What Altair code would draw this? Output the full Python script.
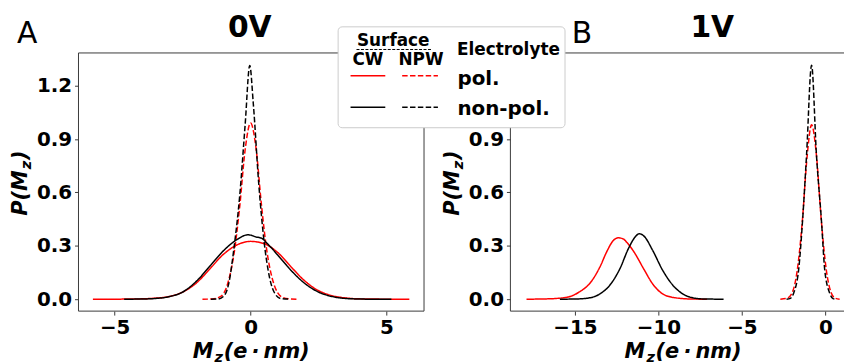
import altair as alt
import pandas as pd

# ---------------- data ----------------
ELECTROLYTES = ["pol.", "non-pol."]
SURFACES = ["CW", "NPW"]
PANEL_TITLES = ["0V", "1V"]
PANEL_LETTERS = ["A", "B"]
A_Y_TICKS = [0.0, 0.3, 0.6, 0.9, 1.2]
B_Y_TICKS = [0.0, 0.3, 0.6, 0.9]          # 1.2 is hidden behind the legend
A_X_TICKS = [-5, 0, 5]
B_X_TICKS = [-15, -10, -5, 0]

# Panel A (0V)
A_POL_CW_X = [-5.8, -5.0, -4.5, -4.0, -3.5, -3.0, -2.5, -2.0, -1.5, -1.0, -0.5, 0.0, 0.5, 1.0, 1.5, 2.0, 2.5, 3.0, 3.5, 4.0, 4.5, 5.0, 5.84]
A_POL_CW_Y = [0.000, 0.000, 0.001, 0.002, 0.006, 0.015, 0.040, 0.090, 0.170, 0.252, 0.305, 0.325, 0.312, 0.262, 0.180, 0.102, 0.048, 0.020, 0.007, 0.002, 0.001, 0.000, 0.000]
A_POL_NPW_X = [-1.77, -1.4, -1.2, -1.0, -0.8, -0.6, -0.4, -0.2, 0.0, 0.2, 0.4, 0.6, 0.8, 1.0, 1.2, 1.4, 1.7]
A_POL_NPW_Y = [0.000, 0.001, 0.008, 0.030, 0.110, 0.265, 0.520, 0.840, 0.990, 0.850, 0.530, 0.270, 0.115, 0.035, 0.009, 0.002, 0.000]
A_NON_CW_X = [-4.65, -4.0, -3.5, -3.0, -2.5, -2.0, -1.5, -1.0, -0.5, -0.1, 0.0, 0.2, 0.4, 0.6, 1.0, 1.5, 2.0, 2.5, 3.0, 3.5, 4.0, 4.5, 5.18]
A_NON_CW_Y = [0.000, 0.001, 0.004, 0.014, 0.040, 0.100, 0.185, 0.272, 0.335, 0.362, 0.360, 0.350, 0.343, 0.315, 0.248, 0.160, 0.088, 0.040, 0.015, 0.004, 0.001, 0.000, 0.000]
A_NON_NPW_X = [-1.46, -1.2, -1.0, -0.8, -0.6, -0.4, -0.2, -0.03, 0.1, 0.3, 0.5, 0.7, 0.9, 1.1, 1.46]
A_NON_NPW_Y = [0.000, 0.001, 0.015, 0.090, 0.300, 0.580, 0.980, 1.313, 1.100, 0.650, 0.320, 0.120, 0.030, 0.004, 0.000]

# Panel B (1V)
B_POL_CW_X = [-17.9, -17.0, -16.0, -15.3, -14.7, -14.1, -13.5, -13.1, -12.7, -12.4, -12.1, -11.9, -11.4, -10.9, -10.3, -9.75, -9.0, -8.0, -7.1]
B_POL_CW_Y = [0.000, 0.001, 0.005, 0.015, 0.043, 0.090, 0.182, 0.266, 0.330, 0.345, 0.338, 0.320, 0.256, 0.173, 0.080, 0.030, 0.008, 0.001, 0.000]
B_POL_NPW_X = [-2.7, -2.3, -2.0, -1.7, -1.4, -1.1, -0.83, -0.55, -0.25, 0.05, 0.35, 0.6, 0.85]
B_POL_NPW_Y = [0.000, 0.005, 0.035, 0.155, 0.420, 0.800, 0.980, 0.820, 0.445, 0.165, 0.035, 0.005, 0.000]
B_NON_CW_X = [-15.9, -15.0, -14.3, -13.5, -12.9, -12.3, -11.8, -11.4, -11.15, -10.85, -10.35, -9.75, -9.15, -8.55, -7.95, -7.2, -6.1]
B_NON_CW_Y = [0.000, 0.001, 0.005, 0.030, 0.080, 0.173, 0.284, 0.349, 0.368, 0.353, 0.275, 0.163, 0.080, 0.030, 0.008, 0.001, 0.000]
B_NON_NPW_X = [-2.33, -2.1, -1.9, -1.6, -1.37, -1.13, -0.83, -0.54, -0.24, -0.04, 0.26, 0.45, 0.6]
B_NON_NPW_Y = [0.000, 0.005, 0.035, 0.170, 0.442, 0.813, 1.315, 0.813, 0.442, 0.163, 0.033, 0.003, 0.000]


def build(series):
    rows = []
    for elec, surf, xs, ys in series:
        for xv, yv in zip(xs, ys):
            rows.append({"x": xv, "y": yv, "electrolyte": elec, "surface": surf,
                         "series": elec + " " + surf})
    return pd.DataFrame(rows)


df_a = build([
    ("pol.", "CW", A_POL_CW_X, A_POL_CW_Y),
    ("pol.", "NPW", A_POL_NPW_X, A_POL_NPW_Y),
    ("non-pol.", "CW", A_NON_CW_X, A_NON_CW_Y),
    ("non-pol.", "NPW", A_NON_NPW_X, A_NON_NPW_Y),
])
df_b = build([
    ("pol.", "CW", B_POL_CW_X, B_POL_CW_Y),
    ("pol.", "NPW", B_POL_NPW_X, B_POL_NPW_Y),
    ("non-pol.", "CW", B_NON_CW_X, B_NON_CW_Y),
    ("non-pol.", "NPW", B_NON_NPW_X, B_NON_NPW_Y),
])

# ---------------- style / layout ----------------
FONT = "DejaVu Sans"
SPINE = "#3a3a3a"
W_A, W_B, H = 348, 337, 260
Y_DOMAIN = [-0.067, 1.384]
A_X_DOMAIN = [-6.33, 6.38]
B_X_DOMAIN = [-18.865, 1.171]
DASH = [5.5, 2.4]
ONE = pd.DataFrame({"k": [0]})


def axis(values, fmt):
    return alt.Axis(values=values, format=fmt, labelFont=FONT, labelFontSize=20,
                    labelFontWeight="bold", labelColor="black", tickColor=SPINE,
                    tickSize=4, tickWidth=1, labelPadding=3, domain=False, grid=False,
                    labelFlush=False, labelOverlap=False, title=None)


def curves(df, xdom, xticks, yticks):
    return alt.Chart(df).mark_line(strokeWidth=1.5, interpolate="monotone").encode(
        x=alt.X("x:Q", scale=alt.Scale(domain=xdom, nice=False, zero=False), axis=axis(xticks, "d")),
        y=alt.Y("y:Q", scale=alt.Scale(domain=Y_DOMAIN, nice=False, zero=False), axis=axis(yticks, ".1f")),
        color=alt.Color("electrolyte:N", scale=alt.Scale(domain=ELECTROLYTES, range=["red", "black"]), legend=None),
        strokeDash=alt.StrokeDash("surface:N", scale=alt.Scale(domain=SURFACES, range=[[1, 0], DASH]), legend=None),
        detail="series:N",
    )


def text(txt, x, y, size, weight="bold", align="center", style="normal", angle=0, dy=0):
    return alt.Chart(ONE).mark_text(
        text=txt, font=FONT, fontSize=size, fontWeight=weight, fontStyle=style,
        align=align, baseline="alphabetic", angle=angle, dy=dy, color="black",
    ).encode(x=alt.value(x), y=alt.value(y))


def hrule(x1, x2, y, color=SPINE, width=1.0, dash=None):
    kw = dict(color=color, strokeWidth=width)
    if dash is not None:
        kw["strokeDash"] = dash
    return alt.Chart(ONE).mark_rule(**kw).encode(x=alt.value(x1), x2=alt.value(x2), y=alt.value(y))


def vrule(x, y1, y2, color=SPINE, width=1.0):
    return alt.Chart(ONE).mark_rule(color=color, strokeWidth=width).encode(
        x=alt.value(x), y=alt.value(y1), y2=alt.value(y2))


def axis_titles(cx):
    # x title  M_z(e · nm)  centred at cx
    left = cx - 59
    base = H + 47
    xt = [
        text("M", left, base, 21, style="italic", align="left"),
        text("z", left + 22.0, base, 14.7, style="italic", align="left", dy=4),
        text("(e\u2009\u00b7\u2009nm)", left + 31.2, base, 21, style="italic", align="left"),
    ]
    # y title  P(M_z)  rotated, centred on the plot height
    start = H / 2 + 34
    yt = [
        text("P(M", -52, start, 21, style="italic", align="left", angle=270),
        text("z", -52, start - 47.0, 14.7, style="italic", align="left", angle=270, dy=4),
        text(")", -52, start - 56.2, 21, style="italic", align="left", angle=270),
    ]
    return xt + yt


panel_a = alt.layer(
    curves(df_a, A_X_DOMAIN, A_X_TICKS, A_Y_TICKS),
    hrule(0, W_A, 0), hrule(0, W_A, H), vrule(0, 0, H), vrule(W_A, 0, H),
    text(PANEL_TITLES[0], 172.5, -16, 30),
    text(PANEL_LETTERS[0], -62, -10, 30, weight="normal", align="left"),
    *axis_titles(174),
).properties(width=W_A, height=H)

# custom legend (drawn in panel B's coordinates, overlapping both panels)
legend = [
    alt.Chart(ONE).mark_rect(fill="white", stroke="#cccccc", strokeWidth=1, cornerRadius=4).encode(
        x=alt.value(-173.5), x2=alt.value(55), y=alt.value(-26.3), y2=alt.value(75.3)),
    text("Surface", -118, -7, 17),
    hrule(-155, -80, -3.5, color="black", width=1, dash=[3, 1.5]),
    text(SURFACES[0], -143.5, 12, 17),
    text(SURFACES[1], -90, 12, 17),
    text("Electrolyte", -2, 2, 17),
    hrule(-161, -126, 23, color="red", width=1.5),
    hrule(-109, -73, 23, color="red", width=1.5, dash=DASH),
    text(ELECTROLYTES[0], -53.3, 32, 20, align="left"),
    hrule(-161, -126, 54.7, color="black", width=1.5),
    hrule(-109, -73, 54.7, color="black", width=1.5, dash=DASH),
    text(ELECTROLYTES[1], -53.3, 62, 20, align="left"),
]

panel_b = alt.layer(
    curves(df_b, B_X_DOMAIN, B_X_TICKS, B_Y_TICKS),
    hrule(0, W_B - 1, 0), hrule(0, W_B - 1, H), vrule(0, 0, H),
    text(PANEL_TITLES[1], 203.3, -16, 30),
    text(PANEL_LETTERS[1], 61.7, -10, 30, weight="normal", align="left"),
    *axis_titles(174),
    *legend,
).properties(width=W_B, height=H)

chart = alt.hconcat(panel_a, panel_b, spacing=87, bounds="flush").properties(
    padding={"left": 2, "top": 4, "right": 0, "bottom": 0},
).configure_view(strokeWidth=0)

chart.save("out.html", embed_options={"renderer": "svg", "actions": False})
